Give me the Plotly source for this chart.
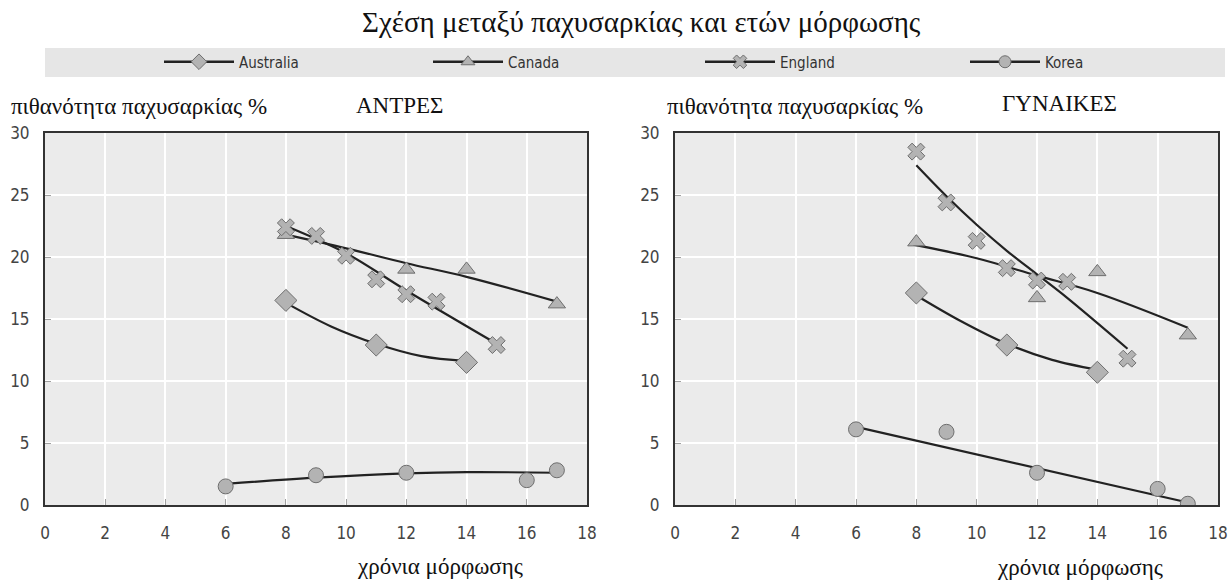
import plotly.graph_objects as go

# ---- data: obesity rate (%) by years of schooling ----
countries = ["Australia", "Canada", "England", "Korea"]
symbols = ["diamond", "triangle-up", "x", "circle"]

# Men (ΑΝΤΡΕΣ)
men_aus_x = [8, 11, 14]
men_aus_y = [16.5, 12.9, 11.5]
men_can_x = [8, 12, 14, 17]
men_can_y = [21.8, 19.0, 19.0, 16.2]
men_eng_x = [8, 9, 10, 11, 12, 13, 15]
men_eng_y = [22.4, 21.7, 20.1, 18.2, 17.0, 16.4, 12.9]
men_kor_x = [6, 9, 12, 16, 17]
men_kor_y = [1.5, 2.4, 2.6, 2.0, 2.8]

# Women (ΓΥΝΑΙΚΕΣ)
wom_aus_x = [8, 11, 14]
wom_aus_y = [17.1, 12.9, 10.7]
wom_can_x = [8, 12, 14, 17]
wom_can_y = [21.2, 16.7, 18.8, 13.7]
wom_eng_x = [8, 9, 10, 11, 12, 13, 15]
wom_eng_y = [28.5, 24.4, 21.3, 19.1, 18.1, 18.0, 11.8]
wom_kor_x = [6, 9, 12, 16, 17]
wom_kor_y = [6.1, 5.9, 2.6, 1.3, 0.1]

# fitted trend curves
men_aus_fit_x = [8, 9.5, 11, 12.5, 14]
men_aus_fit_y = [16.3, 14.4, 13.0, 12.0, 11.6]
men_can_fit_x = [8, 10, 12, 14, 17]
men_can_fit_y = [21.8, 20.7, 19.5, 18.4, 16.4]
men_eng_fit_x = [8, 10, 12, 15]
men_eng_fit_y = [22.5, 20.3, 17.3, 13.0]
men_kor_fit_x = [6, 9, 12, 14, 17]
men_kor_fit_y = [1.7, 2.2, 2.55, 2.65, 2.6]

wom_aus_fit_x = [8, 9.5, 11, 12.5, 14]
wom_aus_fit_y = [16.9, 14.8, 13.0, 11.7, 10.9]
wom_can_fit_x = [7.9, 10, 12, 14, 17]
wom_can_fit_y = [21.0, 19.9, 18.5, 17.1, 14.3]
wom_eng_fit_x = [8, 9, 10, 11, 12, 13, 15]
wom_eng_fit_y = [27.4, 24.9, 22.6, 20.5, 18.6, 16.7, 12.6]
wom_kor_fit_x = [6, 17]
wom_kor_fit_y = [6.3, 0.2]

x_ticks = list(range(0, 19, 2))
y_ticks = list(range(0, 31, 5))

title_text = "Σχέση μεταξύ παχυσαρκίας και ετών μόρφωσης"
y_title = "πιθανότητα παχυσαρκίας %"
x_title = "χρόνια μόρφωσης"
panel_titles = ["ΑΝΤΡΕΣ", "ΓΥΝΑΙΚΕΣ"]

# ---- styling ----
W, H = 1230, 581
LINE_C = "#222222"
MK_FILL = "#b3b3b3"
MK_LINE = "#6e6e6e"
SERIF = "Liberation Serif, Times New Roman, serif"
COND = "DejaVu Sans Condensed, Liberation Sans Narrow, sans-serif"
mk_sizes = {"diamond": 17, "triangle-up": 15, "x": 15, "circle": 15}

panels = [
    ("x", "y", [(men_aus_x, men_aus_y, men_aus_fit_x, men_aus_fit_y),
                (men_can_x, men_can_y, men_can_fit_x, men_can_fit_y),
                (men_eng_x, men_eng_y, men_eng_fit_x, men_eng_fit_y),
                (men_kor_x, men_kor_y, men_kor_fit_x, men_kor_fit_y)]),
    ("x2", "y2", [(wom_aus_x, wom_aus_y, wom_aus_fit_x, wom_aus_fit_y),
                  (wom_can_x, wom_can_y, wom_can_fit_x, wom_can_fit_y),
                  (wom_eng_x, wom_eng_y, wom_eng_fit_x, wom_eng_fit_y),
                  (wom_kor_x, wom_kor_y, wom_kor_fit_x, wom_kor_fit_y)]),
]

fig = go.Figure()

for xa, ya, series in panels:
    for i, (px, py, fx, fy) in enumerate(series):
        sym = symbols[i]
        fig.add_trace(go.Scatter(
            x=fx, y=fy, xaxis=xa, yaxis=ya, mode="lines",
            line=dict(color=LINE_C, width=2.2, shape="spline", smoothing=1.0),
            showlegend=False, hoverinfo="skip"))
        fig.add_trace(go.Scatter(
            x=px, y=py, xaxis=xa, yaxis=ya, mode="markers", name=countries[i],
            marker=dict(symbol=sym, size=mk_sizes[sym], color=MK_FILL,
                        line=dict(color=MK_LINE, width=1)),
            showlegend=False))

# legend entries (line + marker), one legend box per country
legend_ids = ["legend", "legend2", "legend3", "legend4"]
legend_x = [159, 428, 700, 965]
for i, c in enumerate(countries):
    sym = symbols[i]
    fig.add_trace(go.Scatter(
        x=[None], y=[None], mode="lines+markers", name=c, legend=legend_ids[i],
        line=dict(color=LINE_C, width=2.5),
        marker=dict(symbol=sym, size=12, color=MK_FILL, line=dict(color=MK_LINE, width=1))))

legend_style = dict(
    orientation="h", xanchor="left", y=1 - 62 / H, yanchor="middle",
    bgcolor="rgba(0,0,0,0)", itemclick=False, itemdoubleclick=False,
    itemwidth=70,
    font=dict(family=COND, size=15, color="#333333"))
legends = {lid: dict(legend_style, x=legend_x[i] / W) for i, lid in enumerate(legend_ids)}

xdom = [[45 / W, 587 / W], [675 / W, 1218 / W]]
ydom = [1 - 505 / H, 1 - 133 / H]

axis_common = dict(
    showline=True, linecolor="#333333", linewidth=2, mirror=True,
    showgrid=True, gridcolor="#ffffff", gridwidth=1.5, zeroline=False,
    ticks="inside", ticklen=6, tickcolor="#a0a0a0", tickwidth=1,
    tickfont=dict(family=COND, size=17, color="#444444"),
)

layout_axes = {}
for k, suffix in enumerate(["", "2"]):
    layout_axes["xaxis" + suffix] = dict(
        axis_common, domain=xdom[k], range=[0, 18], tickvals=x_ticks,
        anchor="y" + suffix, ticklabelstandoff=12)
    layout_axes["yaxis" + suffix] = dict(
        axis_common, domain=ydom, range=[0, 30], tickvals=y_ticks,
        anchor="x" + suffix, ticklabelstandoff=10)

annotations = [
    dict(text=title_text, x=641 / W, y=1 - 22 / H, font=dict(family=SERIF, size=29, color="#111")),
    dict(text=y_title, x=139 / W, y=1 - 106 / H, font=dict(family=SERIF, size=23, color="#111")),
    dict(text=panel_titles[0], x=400 / W, y=1 - 105 / H, font=dict(family=SERIF, size=23, color="#111")),
    dict(text=y_title, x=795 / W, y=1 - 106 / H, font=dict(family=SERIF, size=23, color="#111")),
    dict(text=panel_titles[1], x=1059 / W, y=1 - 104 / H, font=dict(family=SERIF, size=23, color="#111")),
    dict(text=x_title, x=440 / W, y=1 - 566 / H, font=dict(family=SERIF, size=23, color="#111")),
    dict(text=x_title, x=1080 / W, y=1 - 567 / H, font=dict(family=SERIF, size=23, color="#111")),
]
for a in annotations:
    a.update(xref="paper", yref="paper", showarrow=False, xanchor="center", yanchor="middle")

fig.update_layout(
    width=W, height=H,
    margin=dict(l=0, r=0, t=0, b=0, autoexpand=False),
    paper_bgcolor="#ffffff",
    plot_bgcolor="#ebebeb",
    showlegend=True,
    shapes=[dict(type="rect", xref="paper", yref="paper",
                 x0=45 / W, x1=1225 / W, y0=1 - 77 / H, y1=1 - 48 / H,
                 fillcolor="#e6e6e6", line=dict(width=0), layer="below")],
    annotations=annotations,
    **legends,
    **layout_axes,
)

fig.write_html("out.html")
